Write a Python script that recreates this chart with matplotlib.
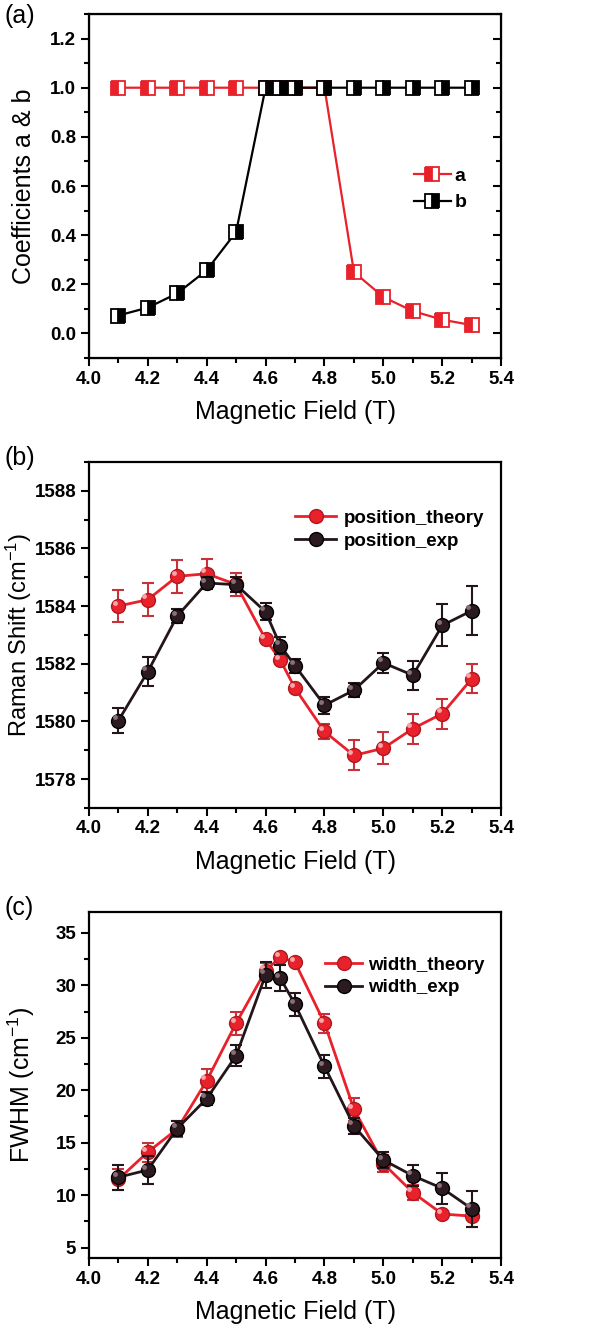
import matplotlib
matplotlib.use("Agg")
import matplotlib.pyplot as plt
import matplotlib.transforms as mtransforms
from matplotlib.ticker import MultipleLocator, FormatStrFormatter

# magnetic field (T)
field = [4.1, 4.2, 4.3, 4.4, 4.5, 4.6, 4.65, 4.7, 4.8, 4.9, 5.0, 5.1, 5.2, 5.3]

# (a) coefficients
coef_a = [1, 1, 1, 1, 1, 1, 1, 1, 1, 0.25, 0.148, 0.091, 0.056, 0.034]
coef_b = [0.073, 0.105, 0.163, 0.257, 0.413, 1, 1, 1, 1, 1, 1, 1, 1, 1]

# (b) Raman shift (cm-1)
pos_theory = [1584.0, 1584.22, 1585.03, 1585.12, 1584.75, 1582.85, 1582.13, 1581.15,
              1579.65, 1578.82, 1579.07, 1579.75, 1580.27, 1581.48]
pos_theory_err = [0.54, 0.58, 0.58, 0.5, 0.4, 0.1, 0.1, 0.1, 0.25, 0.52, 0.55, 0.52, 0.52, 0.5]
pos_exp = [1580.02, 1581.72, 1583.65, 1584.8, 1584.74, 1583.8, 1582.63, 1581.93,
           1580.56, 1581.08, 1582.03, 1581.6, 1583.33, 1583.84]
pos_exp_err = [0.43, 0.5, 0.25, 0.22, 0.25, 0.3, 0.3, 0.25, 0.3, 0.25, 0.35, 0.5, 0.73, 0.85]

# (c) FWHM (cm-1)
wid_theory = [11.5, 14.1, 16.3, 20.9, 26.4, 31.4, 32.7, 32.2, 26.4, 18.2, 13.0, 10.25, 8.2, 8.0]
wid_theory_err = [1.0, 0.9, 0.8, 1.1, 1.1, 0.7, 0.3, 0.3, 0.9, 1.1, 0.8, 0.7, 0.4, 1.0]
wid_exp = [11.7, 12.4, 16.35, 19.2, 23.3, 31.0, 30.7, 28.2, 22.3, 16.6, 13.35, 11.85, 10.65, 8.7]
wid_exp_err = [1.2, 1.35, 0.7, 0.6, 1.0, 1.2, 1.2, 1.1, 1.1, 0.8, 0.8, 1.0, 1.5, 1.7]

RED = "#e8212b"
RED_EB = "#c8303a"
DARK = "#231519"

plt.rcParams["font.family"] = ["Liberation Sans", "DejaVu Sans"]
plt.rcParams["mathtext.fontset"] = "custom"
plt.rcParams["mathtext.rm"] = "Liberation Sans"
plt.rcParams["mathtext.it"] = "Liberation Sans:italic"
plt.rcParams["mathtext.bf"] = "Liberation Sans:bold"

fig = plt.figure(figsize=(5.96, 13.31), dpi=100)
left, width = 0.149, 0.692
ax_a = fig.add_axes([left, 0.731, width, 0.2585])
ax_b = fig.add_axes([left, 0.393, width, 0.26])
ax_c = fig.add_axes([left, 0.0548, width, 0.26])


def style(ax):
    for s in ax.spines.values():
        s.set_linewidth(1.6)
    ax.set_xlim(4.0, 5.4)
    ax.xaxis.set_major_locator(MultipleLocator(0.2))
    ax.xaxis.set_minor_locator(MultipleLocator(0.1))
    ax.xaxis.set_major_formatter(FormatStrFormatter("%.1f"))
    ax.tick_params(which="both", direction="out", width=1.5, top=False,
                   right=False, labelsize=13.5, pad=3)
    ax.tick_params(which="major", length=6)
    ax.tick_params(which="minor", length=3.5)
    ax.set_xlabel("Magnetic Field (T)", fontsize=18, labelpad=9)


def bold_ticks(ax):
    for lab in ax.get_xticklabels() + ax.get_yticklabels():
        lab.set_fontweight("bold")


def spheres(ax, y, yerr, color, ecolor, face, edge, shine, label, z):
    ax.errorbar(field, y, yerr=yerr, fmt="none", ecolor=ecolor, capsize=4,
                capthick=1.5, elinewidth=1.5, zorder=z)
    line, = ax.plot(field, y, color=color, lw=2, marker="o", ms=10, mfc=face,
                    mec=edge, mew=1, label=label, zorder=z + 0.1)
    # small glossy highlight, shifted up-left of every marker
    off = mtransforms.ScaledTranslation(-2.5 / 72, 2.5 / 72, fig.dpi_scale_trans)
    ax.plot(field, y, ls="none", marker="o", ms=3.5, mfc=shine, mec="none",
            transform=ax.transData + off, zorder=z + 0.2)
    return line


# ---- (a)
ax_a.plot(field, coef_a, color=RED, lw=1.6, marker="s", ms=10, fillstyle="left",
          mfc=RED, mfcalt="white", mec=RED, mew=1.3, label="a", zorder=2)
ax_a.plot(field, coef_b, color="black", lw=1.6, marker="s", ms=10, fillstyle="right",
          mfc="black", mfcalt="white", mec="black", mew=1.3, label="b", zorder=3)
ax_a.set_ylim(-0.1, 1.3)
ax_a.yaxis.set_major_locator(MultipleLocator(0.2))
ax_a.yaxis.set_minor_locator(MultipleLocator(0.1))
ax_a.yaxis.set_major_formatter(FormatStrFormatter("%.1f"))
style(ax_a)
bold_ticks(ax_a)
ax_a.set_ylabel("Coefficients a & b", fontsize=18)
ax_a.yaxis.set_label_coords(-0.128, 0.5)
# right-hand ticks point inward on this panel
ax_r = ax_a.twinx()
ax_r.set_ylim(ax_a.get_ylim())
ax_r.yaxis.set_major_locator(MultipleLocator(0.2))
ax_r.yaxis.set_minor_locator(MultipleLocator(0.1))
ax_r.tick_params(which="both", direction="in", width=1.5, labelright=False)
ax_r.tick_params(which="major", length=6)
ax_r.tick_params(which="minor", length=3.5)
ax_a.legend(loc="center left", bbox_to_anchor=(0.745, 0.49), frameon=False,
            handlelength=1.9, handletextpad=0.2, labelspacing=0.45,
            prop={"weight": "bold", "size": 14})

# ---- (b)
h1 = spheres(ax_b, pos_theory, pos_theory_err, RED, RED_EB, RED, "#b01820",
             "#f7a5aa", "position_theory", 2)
h2 = spheres(ax_b, pos_exp, pos_exp_err, DARK, DARK, "#2b1b20", "black",
             "#8a7076", "position_exp", 3)
ax_b.set_ylim(1577, 1589)
ax_b.yaxis.set_major_locator(MultipleLocator(2))
ax_b.yaxis.set_minor_locator(MultipleLocator(1))
style(ax_b)
bold_ticks(ax_b)
ax_b.set_ylabel("Raman Shift (cm$^{-1}$)", fontsize=17)
ax_b.yaxis.set_label_coords(-0.133, 0.5)
ax_b.legend(handles=[h1, h2], loc="upper right", bbox_to_anchor=(1.0, 0.91),
            frameon=False, handlelength=2.2, handletextpad=0.4, labelspacing=0.3,
            prop={"weight": "bold", "size": 13.5})

# ---- (c)
h3 = spheres(ax_c, wid_theory, wid_theory_err, RED, RED_EB, RED, "#b01820",
             "#f7a5aa", "width_theory", 2)
h4 = spheres(ax_c, wid_exp, wid_exp_err, DARK, DARK, "#2b1b20", "black",
             "#8a7076", "width_exp", 3)
ax_c.set_ylim(4, 37)
ax_c.yaxis.set_major_locator(MultipleLocator(5))
ax_c.yaxis.set_minor_locator(MultipleLocator(2.5))
style(ax_c)
bold_ticks(ax_c)
ax_c.set_ylabel("FWHM (cm$^{-1}$)", fontsize=18)
ax_c.yaxis.set_label_coords(-0.125, 0.5)
ax_c.legend(handles=[h3, h4], loc="upper right", bbox_to_anchor=(1.0, 0.92),
            frameon=False, handlelength=2.0, handletextpad=0.3, labelspacing=0.3,
            prop={"weight": "bold", "size": 13.5})

fig.text(0.008, 0.997, "(a)", fontsize=18, va="top", ha="left")
fig.text(0.008, 0.665, "(b)", fontsize=18, va="top", ha="left")
fig.text(0.008, 0.327, "(c)", fontsize=18, va="top", ha="left")

fig.savefig("out.png", dpi=100)
